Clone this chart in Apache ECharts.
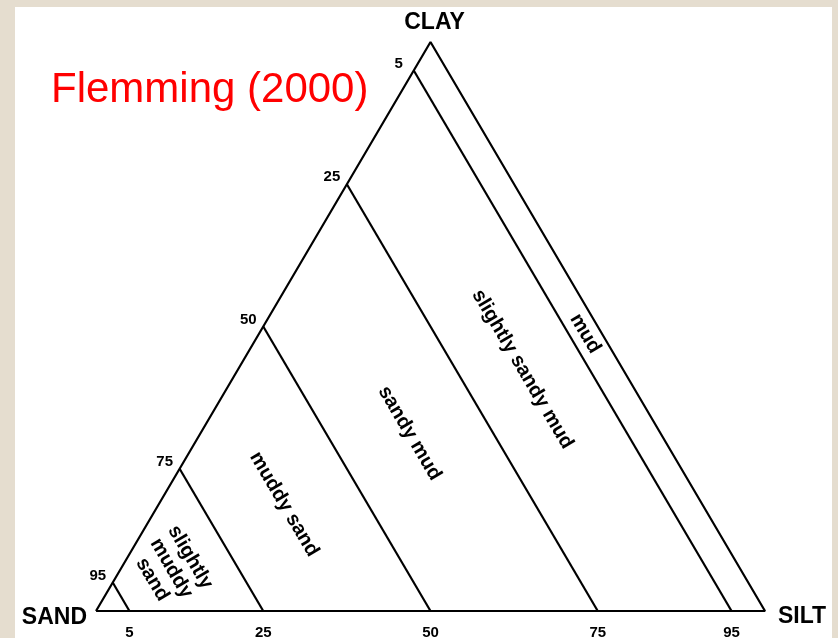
<!DOCTYPE html>
<html>
<head>
<meta charset="utf-8">
<script src="https://cdn.jsdelivr.net/npm/echarts@6/dist/echarts.min.js"></script>
<style>
  html, body { margin: 0; padding: 0; background: #e5ddcf; }
  #main { width: 838px; height: 638px; }
</style>
</head>
<body>
<div id="main"></div>
<script>
// class boundaries, in % mud (silt + clay)
var boundaries = [5, 25, 50, 75, 95];
var bottomLabels = ['5', '25', '50', '75', '95'];
var leftLabels = ['95', '75', '50', '25', '5'];
var vertexNames = ['SAND', 'SILT', 'CLAY'];
var classNames = ['slightly\nmuddy\nsand', 'muddy sand', 'sandy mud', 'slightly sandy mud', 'mud'];

// ternary (silt %, clay %) -> x, y of the cartesian grid
function tern(silt, clay) {
    return [silt + clay / 2, clay];
}

var gridW = 669, gridH = 569;
// text runs parallel to the class boundaries
var tilt = Math.atan2(gridH, gridW / 2) * 180 / Math.PI;
var font = 'Liberation Sans, Arial, sans-serif';

var chart = echarts.init(document.getElementById('main'));

var series = [];
series.push({
    type: 'line',
    data: [tern(0, 0), tern(100, 0), tern(0, 100), tern(0, 0)],
    symbol: 'none',
    silent: true,
    lineStyle: { color: '#000', width: 2.2 }
});
boundaries.forEach(function (m) {
    series.push({
        type: 'line',
        data: [tern(m, 0), tern(0, m)],
        symbol: 'none',
        silent: true,
        lineStyle: { color: '#000', width: 2.2 }
    });
});

var bold = { color: '#000', opacity: 1, fontWeight: 'bold', fontFamily: font };

function labels(data, label) {
    return {
        type: 'scatter',
        symbolSize: 0,
        silent: true,
        itemStyle: { opacity: 1 },
        data: data,
        label: Object.assign({ show: true }, bold, label)
    };
}

// corner names
series.push(labels([
    { value: tern(0, 0), label: { position: 'left', distance: 9, offset: [0, 7] } },
    { value: tern(100, 0), label: { position: 'right', distance: 13, offset: [0, 6] } },
    { value: tern(0, 100), label: { position: 'top', distance: 8, offset: [4, 0] } }
], {
    fontSize: 23,
    formatter: function (p) { return vertexNames[p.dataIndex]; }
}));

// bottom tick labels
series.push(labels(boundaries.map(function (m) { return tern(m, 0); }), {
    position: 'bottom', distance: 14, fontSize: 15,
    formatter: function (p) { return bottomLabels[p.dataIndex]; }
}));

// left edge tick labels
series.push(labels(boundaries.map(function (m) { return tern(0, m); }), {
    position: 'inside', offset: [-15, -7], fontSize: 15,
    formatter: function (p) { return leftLabels[p.dataIndex]; }
}));

// class names, in the middle of each band
series.push(labels(classNames.map(function (name, i) {
    var lo = boundaries[i];
    var hi = i + 1 < boundaries.length ? boundaries[i + 1] : 100;
    var mid = (lo + hi) / 2;
    return tern(mid / 2, mid / 2);
}), {
    position: 'inside', rotate: -tilt, fontSize: 20, lineHeight: 22,
    formatter: function (p) { return classNames[p.dataIndex]; }
}));

chart.setOption({
    animation: false,
    backgroundColor: '#e5ddcf',
    title: {
        text: 'Flemming (2000)',
        left: 51,
        top: 69,
        padding: 0,
        textStyle: { color: '#ff0000', fontSize: 42, fontWeight: 'normal', fontFamily: font }
    },
    graphic: [{
        type: 'rect',
        z: -10,
        shape: { x: 15, y: 7, width: 817, height: 640 },
        style: { fill: '#ffffff' }
    }],
    grid: { left: 96, top: 42, width: gridW, height: gridH },
    xAxis: { type: 'value', min: 0, max: 100, show: false },
    yAxis: { type: 'value', min: 0, max: 100, show: false },
    series: series
});
</script>
</body>
</html>
